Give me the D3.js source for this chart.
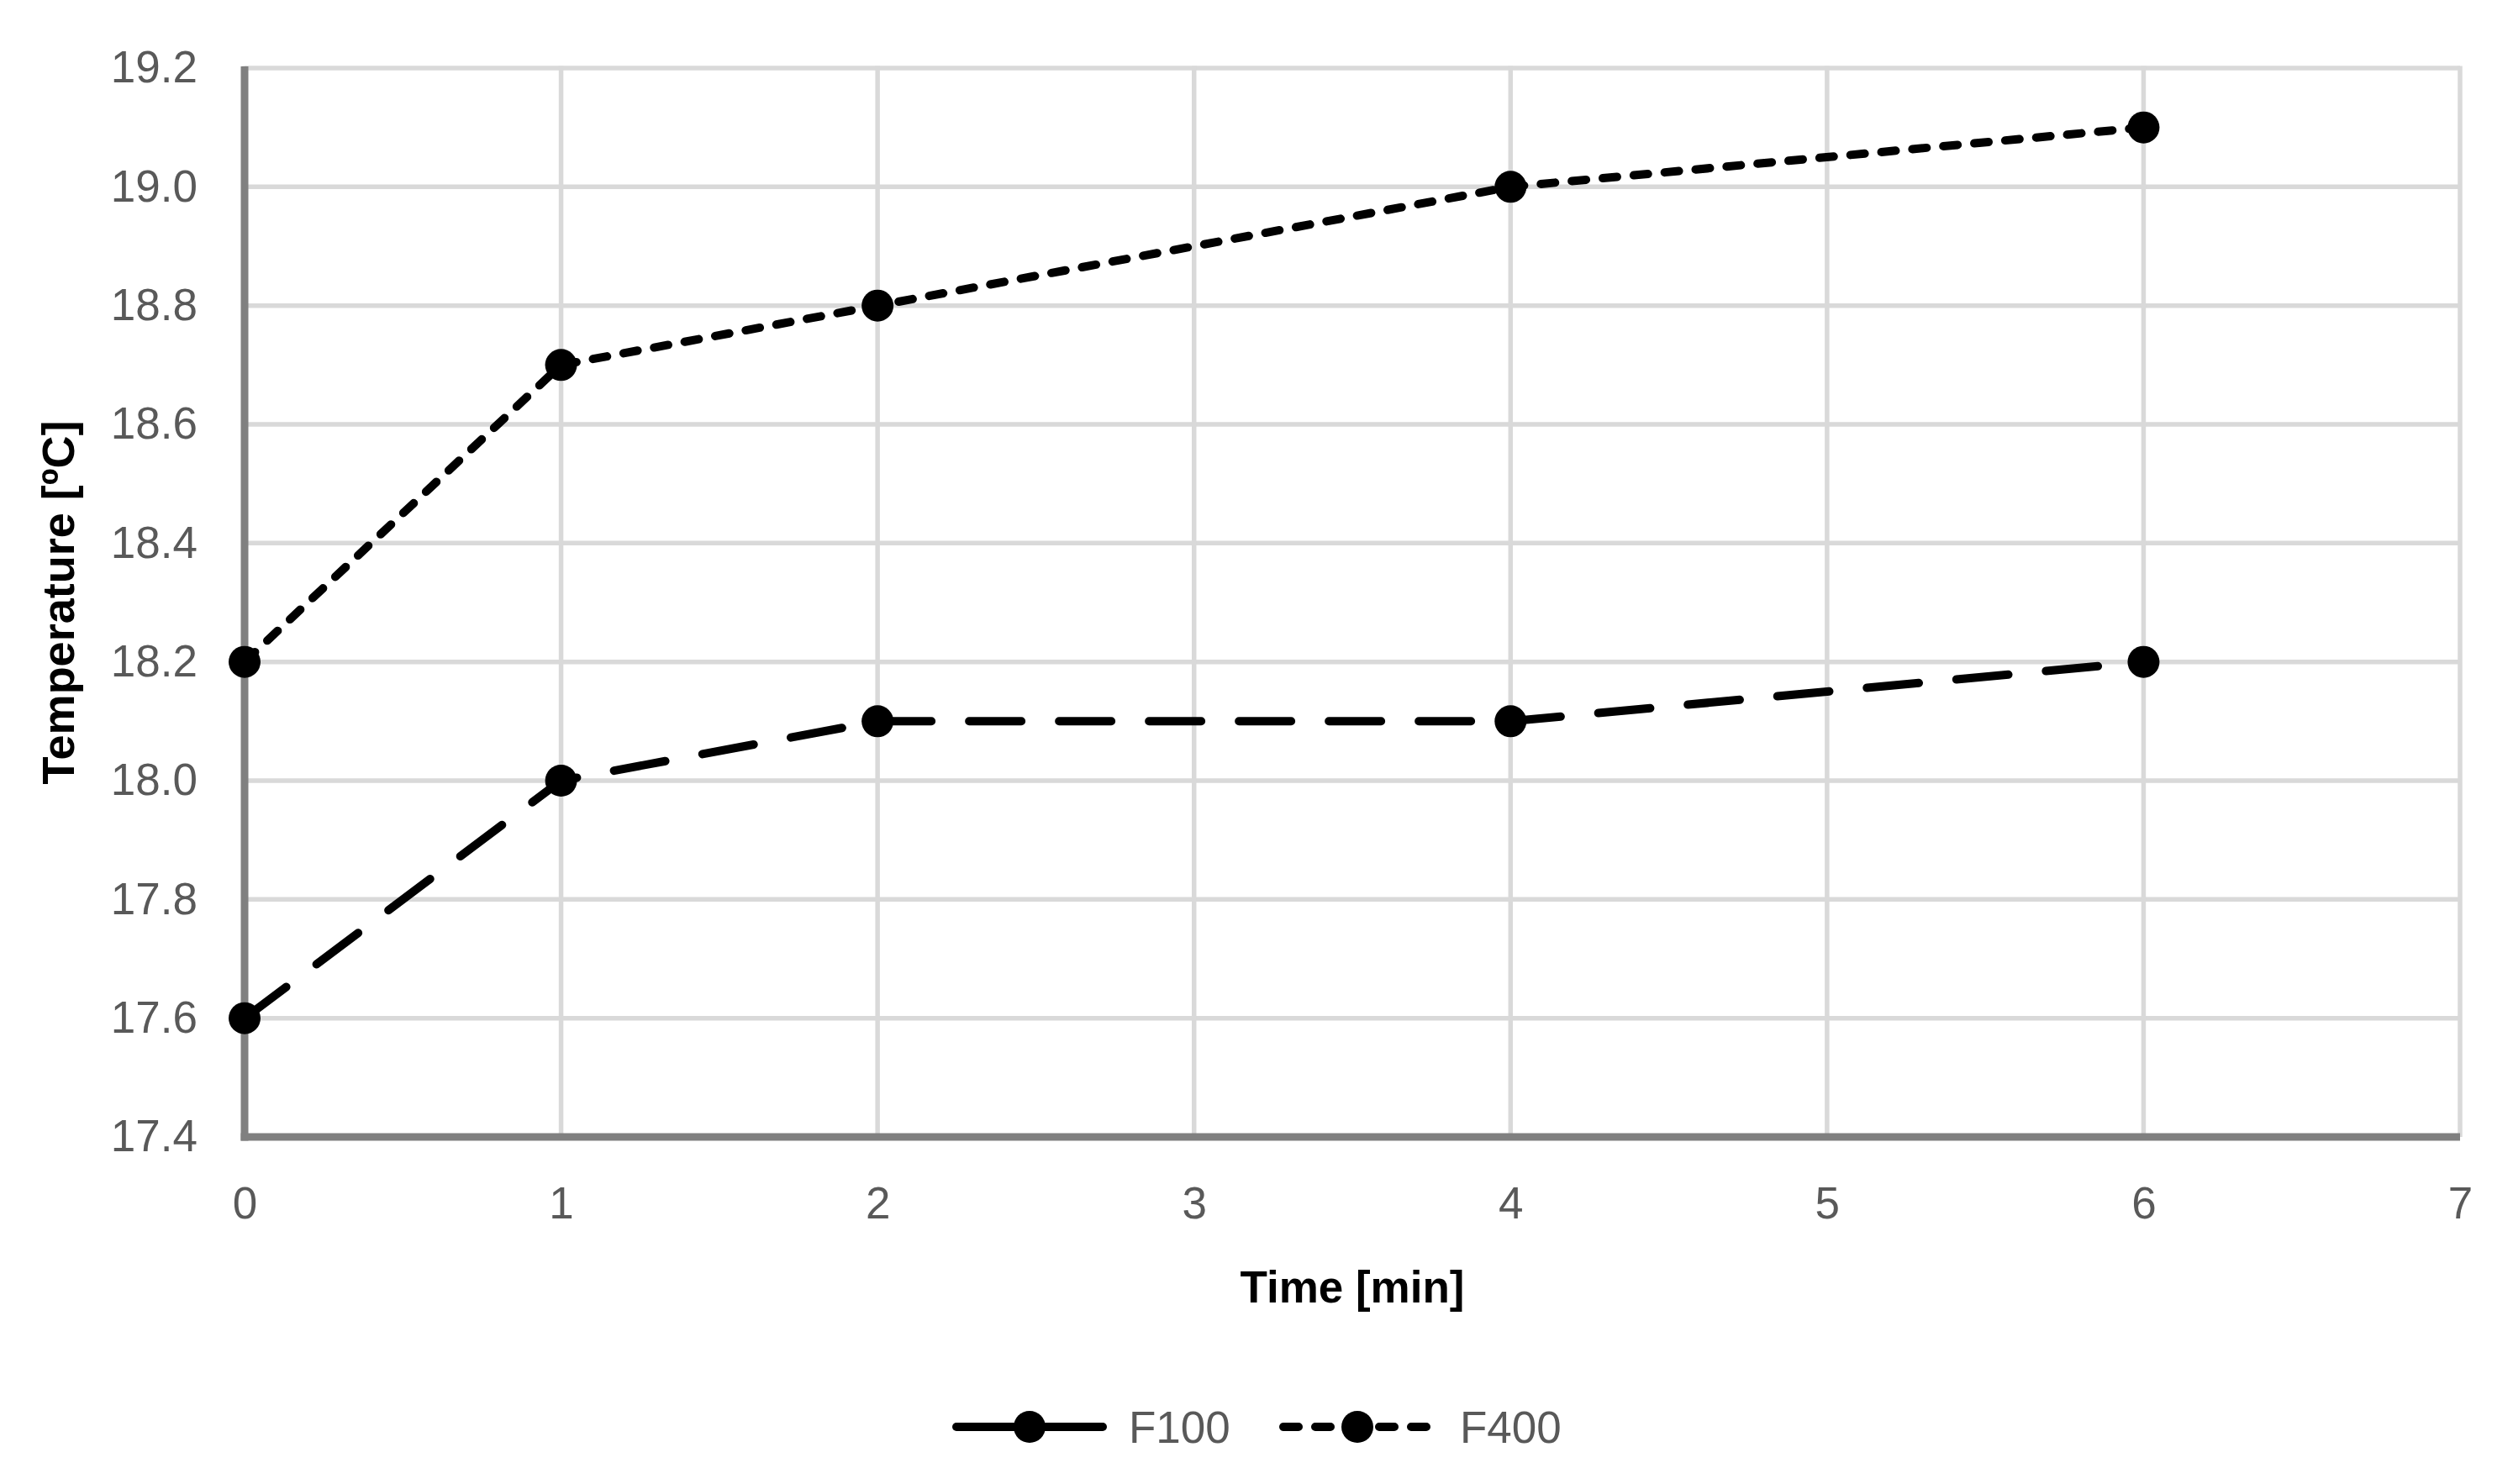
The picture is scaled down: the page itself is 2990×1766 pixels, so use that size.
<!DOCTYPE html>
<html><head><meta charset="utf-8">
<script src="https://cdn.jsdelivr.net/npm/d3@7"></script>
<style>html,body{margin:0;padding:0;background:#fff;}</style>
</head><body>
<script>
const times = [0, 1, 2, 4, 6];
const f100 = [17.6, 18.0, 18.1, 18.1, 18.2];
const f400 = [18.2, 18.7, 18.8, 19.0, 19.1];
const seriesNames = ["F100", "F400"];
const xTicks = [0, 1, 2, 3, 4, 5, 6, 7];
const yTicks = [17.4, 17.6, 17.8, 18.0, 18.2, 18.4, 18.6, 18.8, 19.0, 19.2];
const xTitle = "Time [min]";
const yTitle = "Temperature [ºC]";

const W = 2990, H = 1766;
const font = "'Liberation Sans', Arial, sans-serif";
const svg = d3.select("body").append("svg").attr("width", W).attr("height", H)
  .style("font-family", font);
svg.append("rect").attr("width", W).attr("height", H).attr("fill", "#fff");

const x = d3.scaleLinear().domain([0, 7]).range([291, 2927]);
const y = d3.scaleLinear().domain([17.4, 19.2]).range([1353, 81]);

// gridlines
const grid = svg.append("g");
grid.selectAll(".hg").data(yTicks).join("line")
  .attr("x1", x(0)).attr("x2", x(7))
  .attr("y1", d => y(d)).attr("y2", d => y(d))
  .attr("stroke", "#d9d9d9").attr("stroke-width", 5.5);
grid.selectAll(".vg").data(xTicks).join("line")
  .attr("x1", d => x(d)).attr("x2", d => x(d))
  .attr("y1", y(17.4)).attr("y2", y(19.2) - 2.5)
  .attr("stroke", "#d9d9d9").attr("stroke-width", 5.5);

// axes
const yAxis = d3.axisLeft(y).tickValues(yTicks).tickFormat(d3.format(".1f")).tickSize(0).tickPadding(56);
const gy = svg.append("g").attr("transform", `translate(${x(0)},0)`).call(yAxis);
gy.select(".domain").remove();
gy.selectAll("text").attr("font-size", 53).attr("fill", "#595959").attr("font-family", font);

const xAxis = d3.axisBottom(x).tickValues(xTicks).tickFormat(d3.format("d")).tickSize(0).tickPadding(59);
const gx = svg.append("g").attr("transform", `translate(0,${y(17.4)})`).call(xAxis);
gx.select(".domain").remove();
gx.selectAll("text").attr("font-size", 53).attr("fill", "#595959").attr("font-family", font);

svg.append("line").attr("x1", x(0)).attr("x2", x(0)).attr("y1", y(19.2) - 2).attr("y2", y(17.4) + 4.5)
  .attr("stroke", "#808080").attr("stroke-width", 9);
svg.append("line").attr("x1", x(0) - 4.5).attr("x2", x(7)).attr("y1", y(17.4)).attr("y2", y(17.4))
  .attr("stroke", "#808080").attr("stroke-width", 9);

// titles
svg.append("text").attr("x", (x(0) + x(7)) / 2).attr("y", 1550)
  .attr("text-anchor", "middle").attr("font-size", 53).attr("font-weight", "bold")
  .attr("fill", "#000").text(xTitle);
svg.append("text").attr("transform", `translate(88,${(y(17.4) + y(19.2)) / 2}) rotate(-90)`)
  .attr("text-anchor", "middle").attr("font-size", 54).attr("font-weight", "bold")
  .attr("fill", "#000").text(yTitle);

// series
const seriesData = [f100, f400];
const dashes = ["62,45", "17,20"];
const line = d3.line().x(d => x(d[0])).y(d => y(d[1]));
seriesData.forEach((vals, i) => {
  const pts = times.map((t, j) => [t, vals[j]]);
  svg.append("path").datum(pts).attr("d", line)
    .attr("fill", "none").attr("stroke", "#000").attr("stroke-width", 10)
    .attr("stroke-linecap", "round").attr("stroke-dasharray", dashes[i]);
  svg.selectAll(null).data(pts).join("circle")
    .attr("cx", d => x(d[0])).attr("cy", d => y(d[1])).attr("r", 19).attr("fill", "#000");
});

// legend
const legY = 1698;
const legItems = [
  {name: seriesNames[0], x1: 1138, x2: 1312, dash: null, tx: 1343},
  {name: seriesNames[1], x1: 1527, x2: 1703, dash: "18,20", tx: 1737}
];
legItems.forEach(it => {
  const ln = svg.append("line").attr("x1", it.x1).attr("x2", it.x2).attr("y1", legY).attr("y2", legY)
    .attr("stroke", "#000").attr("stroke-width", 10).attr("stroke-linecap", "round");
  if (it.dash) ln.attr("stroke-dasharray", it.dash);
  svg.append("circle").attr("cx", (it.x1 + it.x2) / 2).attr("cy", legY).attr("r", 19).attr("fill", "#000");
  svg.append("text").attr("x", it.tx).attr("y", legY).attr("dy", "0.35em")
    .attr("font-size", 53).attr("fill", "#595959").text(it.name);
});
</script>
</body></html>
